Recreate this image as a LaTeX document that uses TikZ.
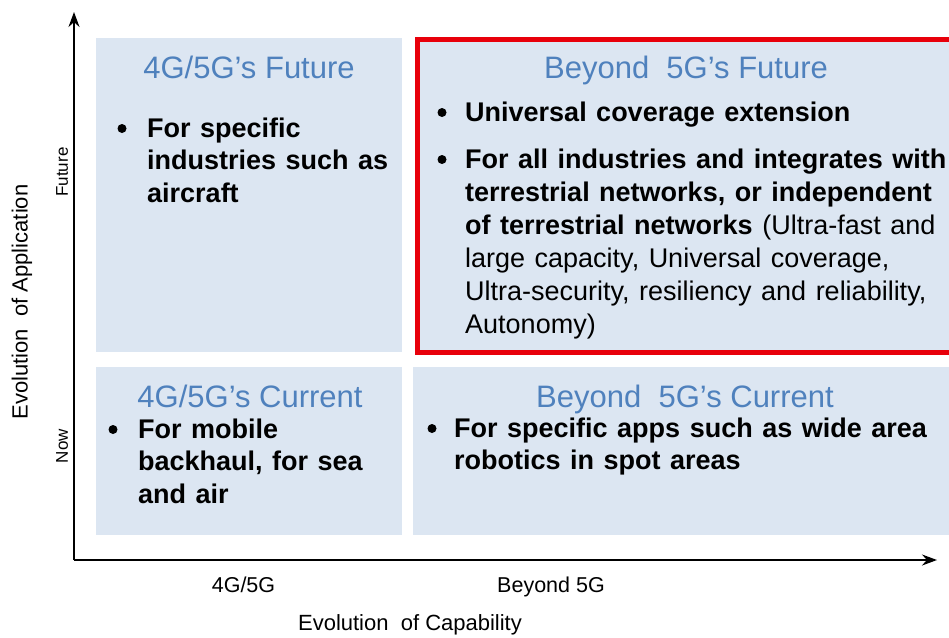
\documentclass[tikz,border=0pt]{standalone}
\usepackage{fontspec}
\setmainfont{Liberation Sans}
\usetikzlibrary{arrows.meta}
\definecolor{boxfill}{HTML}{DCE6F2}
\definecolor{titleblue}{HTML}{4F81BD}
\definecolor{hired}{HTML}{E8000B}
\newcommand\widespacing{\spaceskip 9.5pt\relax}
\tikzset{
  quad/.style={fill=boxfill, draw=none},
  redquad/.style={fill=boxfill, draw=hired, line width=5pt},
  qtitle/.style={anchor=base, inner sep=0pt, text=titleblue, font=\fontsize{31}{37}\selectfont},
  body/.style={anchor=base west, inner sep=0pt, font=\fontsize{27}{32.5}\selectfont\bfseries\widespacing},
  bodyb/.style={anchor=base west, inner sep=0pt, font=\fontsize{27}{33}\selectfont\bfseries\widespacing},
  dot/.style={circle, fill=black, inner sep=0pt, minimum size=9pt},
  axisline/.style={line width=1.4pt, -{Stealth[length=15pt,width=11pt]}},
  tick/.style={anchor=base, inner sep=0pt, font=\fontsize{21.5}{26}\selectfont},
  axlab/.style={anchor=base, inner sep=0pt, font=\fontsize{22}{26}\selectfont},
  sidelab/.style={inner sep=0pt, rotate=90, font=\fontsize{17}{20}\selectfont},
}
\begin{document}
\begin{tikzpicture}[x=1pt,y=-1pt]
\useasboundingbox (0,0) rectangle (949,637);
\begin{scope}
  \clip (0,0) rectangle (949,637);
  \fill[quad] (96,38) rectangle (402,352);
  \fill[quad] (96,367) rectangle (402,535);
  \fill[quad] (413,367) rectangle (960,535);
  \draw[redquad] (417.5,39.5) rectangle (965,352.5);
\end{scope}

% axes
\coordinate (O) at (74,560);
\coordinate (ytip) at (74,12);
\coordinate (xtip) at (937,560);
\draw[axisline] (O) -- (ytip);
\draw[axisline] (O) -- (xtip);

% titles
\node[qtitle] (t1) at (249,78) {4G/5G’s Future};
\node[qtitle] (t2) at (686,78) {Beyond\ \ 5G’s Future};
\node[qtitle] (t3) at (250,407) {4G/5G’s Current};
\node[qtitle] (t4) at (685,407) {Beyond\ \ 5G’s Current};

% top-left
\node[dot] (b1) at (122,128.5) {};
\node[body] (p1) at (147,137) {\begin{tabular}[t]{@{}l@{}}For specific\\industries such as\\aircraft\end{tabular}};

% top-right
\node[dot] (b2) at (442,112.5) {};
\node[body] (p2) at (465,121) {Universal coverage extension};
\node[dot] (b3) at (442,159.5) {};
\node[bodyb] (p3) at (465,168) {\begin{tabular}[t]{@{}l@{}}For all industries and integrates with\\terrestrial networks, or independent\\of terrestrial networks \mdseries(Ultra-fast and\\\mdseries large capacity, Universal coverage,\\\mdseries Ultra-security, resiliency and reliability,\\\mdseries Autonomy)\end{tabular}};

% bottom-left
\node[dot] (b4) at (113,429.5) {};
\node[body] (p4) at (138,438) {\begin{tabular}[t]{@{}l@{}}For mobile\\backhaul, for sea\\and air\end{tabular}};

% bottom-right
\node[dot] (b5) at (432,428.5) {};
\node[body] (p5) at (454,437) {\begin{tabular}[t]{@{}l@{}}For specific apps such as wide area\\robotics in spot areas\end{tabular}};

% axis labels
\node[tick] (x1) at (243.5,592) {4G/5G};
\node[tick] (x2) at (551,592) {Beyond 5G};
\node[axlab] (xl) at (410,630) {Evolution\ \ of Capability};
\node[sidelab, font=\fontsize{22}{26}\selectfont] (yl) at (22,302) {Evolution\ \ of Application};
\node[sidelab] (y1) at (62,172) {Future};
\node[sidelab] (y2) at (62,446) {Now};
\end{tikzpicture}
\end{document}
